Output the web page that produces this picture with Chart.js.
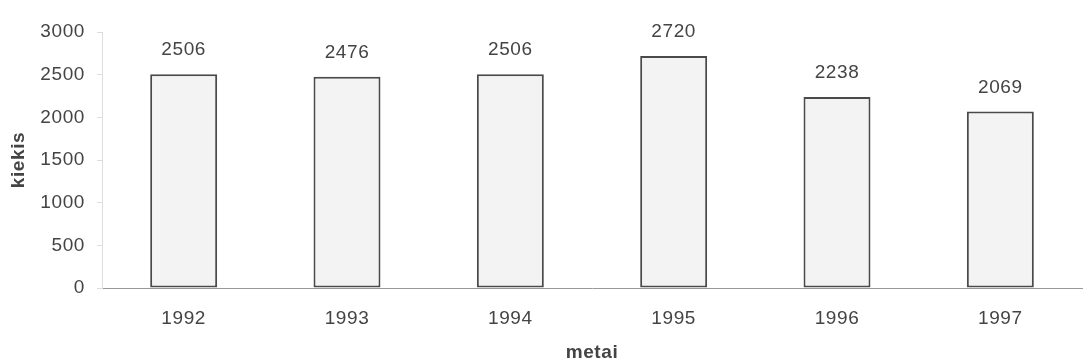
<!DOCTYPE html>
<html>
<head>
<meta charset="utf-8">
<script src="https://cdn.jsdelivr.net/npm/chart.js@4"></script>
<style>
  html, body { margin: 0; padding: 0; background: #fff; }
  #wrap { width: 1092px; height: 364px; }
</style>
</head>
<body>
<div id="wrap"><canvas id="bar-chart" width="1092" height="364"></canvas></div>
<script>
'use strict';
const years = ['1992', '1993', '1994', '1995', '1996', '1997'];
const amounts = [2506, 2476, 2506, 2720, 2238, 2069];
const yTicks = [0, 500, 1000, 1500, 2000, 2500, 3000];

const FONT = '"Liberation Sans", Arial, sans-serif';

// the original text is set a little wider than Arial
const wideText = {
  id: 'wideText',
  beforeDraw(chart) {
    chart.ctx.letterSpacing = '0.6px';
  }
};

// numbers above each bar
const valueLabels = {
  id: 'valueLabels',
  afterDatasetsDraw(chart) {
    const ctx = chart.ctx;
    const meta = chart.getDatasetMeta(0);
    ctx.save();
    ctx.font = '19px ' + FONT;
    ctx.fillStyle = '#444';
    ctx.textAlign = 'center';
    ctx.textBaseline = 'middle';
    meta.data.forEach((bar, i) => {
      ctx.fillText(String(amounts[i]), bar.x, bar.y - 24);
    });
    ctx.restore();
  }
};

new Chart(document.getElementById('bar-chart'), {
  type: 'bar',
  data: {
    labels: years,
    datasets: [{
      data: amounts,
      backgroundColor: '#f3f3f3',
      borderColor: '#4a4a4a',
      borderWidth: 2,
      borderSkipped: false,
      barPercentage: 0.41,
      categoryPercentage: 1
    }]
  },
  options: {
    responsive: false,
    animation: false,
    layout: { padding: { top: 32, right: 10, left: 0, bottom: 0 } },
    plugins: {
      legend: { display: false },
      tooltip: { enabled: false }
    },
    scales: {
      x: {
        grid: { display: false, drawTicks: false },
        border: { color: '#999', width: 1 },
        ticks: {
          color: '#444',
          padding: 19,
          font: { family: FONT, size: 19 }
        },
        title: {
          display: true,
          text: 'metai',
          color: '#444',
          padding: { top: 4, bottom: 0 },
          font: { family: FONT, size: 19, weight: 'bold' }
        },
        afterFit: scale => { scale.height = 76; }
      },
      y: {
        min: 0,
        max: 3000,
        afterBuildTicks: scale => { scale.ticks = yTicks.map(v => ({ value: v })); },
        grid: { drawOnChartArea: false, tickLength: 5, color: '#ddd' },
        border: { color: '#ddd', width: 1 },
        ticks: {
          color: '#444',
          padding: 12,
          callback: v => String(v),
          font: { family: FONT, size: 19 }
        },
        title: {
          display: true,
          text: 'kiekis',
          color: '#444',
          padding: { top: 7, bottom: 4 },
          font: { family: FONT, size: 19, weight: 'bold' }
        },
        afterFit: scale => { scale.width = 102; }
      }
    }
  },
  plugins: [wideText, valueLabels]
});
</script>
</body>
</html>
